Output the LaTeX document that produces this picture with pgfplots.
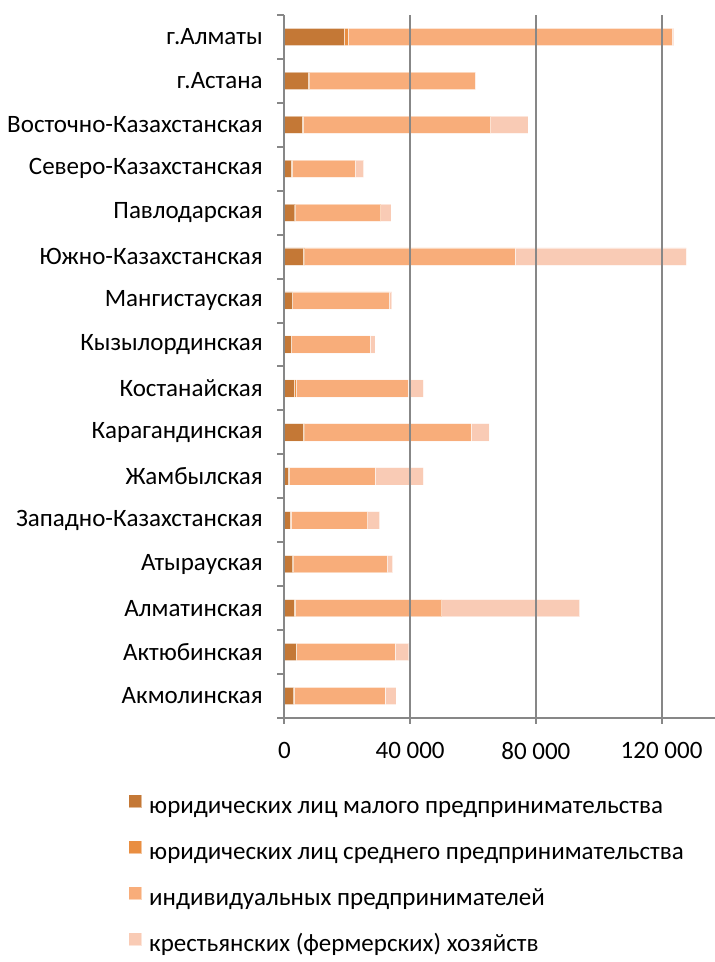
\documentclass[border=0pt]{standalone}
\usepackage{fontspec}
\setmainfont{Carlito}
\usepackage{pgfplots}
\usepackage{pgfplotstable}
\pgfplotsset{compat=1.18}
\definecolor{c1}{HTML}{C47836}
\definecolor{c2}{HTML}{E98E41}
\definecolor{c3}{HTML}{F8AD7A}
\definecolor{c4}{HTML}{F9CBB5}
\definecolor{axgray}{HTML}{878787}
\pgfplotstableread{
y a b c d
0 2900 200 28900 3500
1 3700 200 31300 4400
2 3200 300 46600 43800
3 2600 300 29900 1600
4 1800 300 24400 3800
5 1300 300 27300 15300
6 6000 500 52900 5700
7 3200 500 35600 4900
8 2200 100 25000 1500
9 2500 200 30700 800
10 6000 500 66900 54500
11 3300 300 27100 3200
12 2200 300 20100 2600
13 5700 300 59600 11900
14 7600 400 52700 200
15 19000 1300 103100 500
}\data
\begin{document}
\fontsize{12.5}{15}\selectfont
\begin{tikzpicture}
\begin{axis}[
  at={(142.2pt,122pt)}, anchor=south west,
  scale only axis, width=215.3pt, height=351.5pt,
  xbar stacked, bar width=8.65pt,
  xmin=0, xmax=137000, ymin=-0.5, ymax=15.5,
  ytick={0,...,15},
  yticklabels={Акмолинская,Актюбинская,Алматинская,Атырауская,Западно-Казахстанская,Жамбылская,Карагандинская,Костанайская,Кызылординская,Мангистауская,Южно-Казахстанская,Павлодарская,Северо-Казахстанская,Восточно-Казахстанская,г.Астана,г.Алматы},
  minor ytick={-0.5,0.5,...,15.5},
  xtick={0,40000,80000,120000},
  xticklabels={0,40 000,80 000,120 000},
  scaled x ticks=false,
  /pgf/number format/assume math mode=true,
  xmajorgrids, axis on top,
  axis x line*=bottom, axis y line*=left,
  axis line style={axgray, line width=1pt},
  major grid style={axgray, line width=1pt},
  tick align=outside,
  major tick length=3pt, minor tick length=3.5pt,
  major y tick style={draw=none},
  minor y tick style={axgray, line width=1pt},
  major x tick style={axgray, line width=1pt},
  tick label style={font=\fontsize{12.5}{15}\selectfont, text=black},
  yticklabel style={xshift=-3.5pt},
  xticklabel style={yshift=-5pt},
  legend style={at={(axis description cs:-0.3632,-0.1081)}, anchor=north west,
    draw=none, fill=none, inner sep=0pt, row sep=10.3pt, column sep=3.5pt,
    nodes={inner sep=0pt, text height=9pt, text depth=3pt}, font=\fontsize{12.5}{15}\selectfont},
  legend cell align=left,
  legend image code/.code={\fill[#1] (0pt,0pt) rectangle (6.5pt,6.5pt);},
]
\addplot[fill=c1, draw=white, draw opacity=0.5, line width=0.4pt] table[x=a, y=y] {\data};
\addplot[fill=c2, draw=white, draw opacity=0.5, line width=0.4pt] table[x=b, y=y] {\data};
\addplot[fill=c3, draw=white, draw opacity=0.5, line width=0.4pt] table[x=c, y=y] {\data};
\addplot[fill=c4, draw=white, draw opacity=0.5, line width=0.4pt] table[x=d, y=y] {\data};
\legend{юридических лиц малого предпринимательства,юридических лиц среднего предпринимательства,индивидуальных предпринимателей,крестьянских (фермерских) хозяйств}
\end{axis}
\pgfresetboundingbox
\path[use as bounding box] (0,0) rectangle (357.5pt,481pt);
\end{tikzpicture}
\end{document}
